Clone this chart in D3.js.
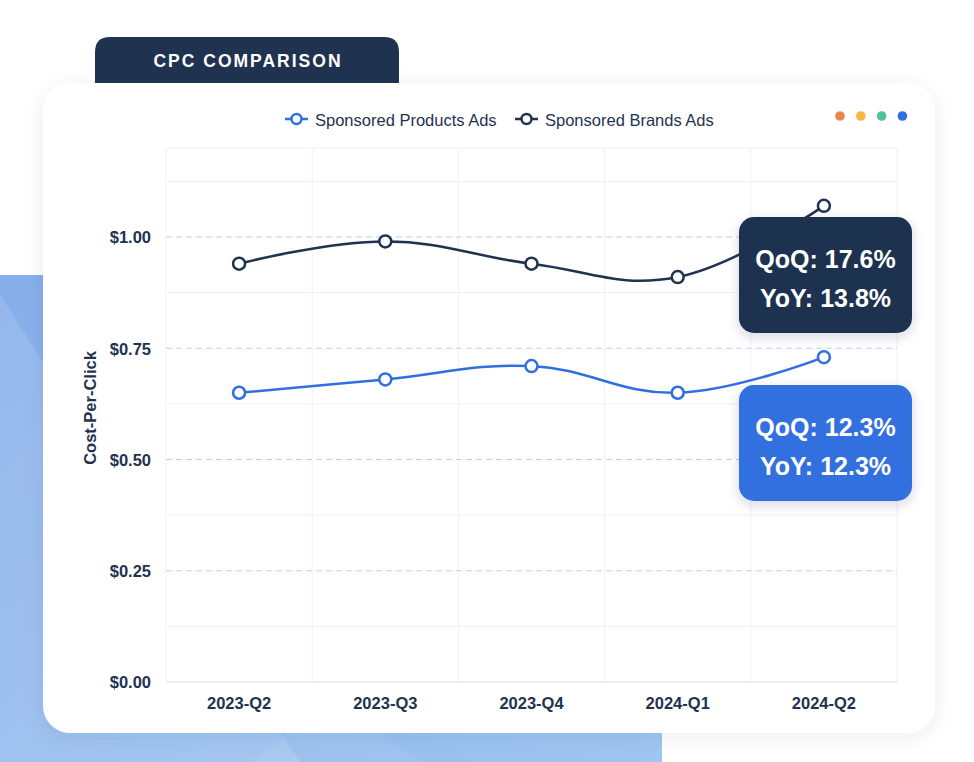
<!DOCTYPE html>
<html>
<head>
<meta charset="utf-8">
<script src="https://cdn.jsdelivr.net/npm/d3@7"></script>
<style>
  html, body { margin: 0; padding: 0; background: #ffffff; }
  svg { display: block; font-family: "Liberation Sans", Arial, Helvetica, sans-serif; }
</style>
</head>
<body>
<svg id="chart" width="974" height="762"></svg>
<script>
// ---- data ----
const quarters = ["2023-Q2", "2023-Q3", "2023-Q4", "2024-Q1", "2024-Q2"];
const productsCPC = [0.65, 0.68, 0.71, 0.65, 0.73];
const brandsCPC = [0.94, 0.99, 0.94, 0.91, 1.07];
const seriesNames = ["Sponsored Products Ads", "Sponsored Brands Ads"];
const yTickValues = [0, 0.25, 0.5, 0.75, 1.0];
const yMinorValues = [0.125, 0.375, 0.625, 0.875, 1.125, 1.2];
const brandsChange = ["QoQ: 17.6%", "YoY: 13.8%"];
const productsChange = ["QoQ: 12.3%", "YoY: 12.3%"];
const titleText = "CPC COMPARISON";
const yAxisTitle = "Cost-Per-Click";
const dotColors = ["#ef8450", "#f5b942", "#4fc19b", "#2f6fe0"];

// ---- style ----
const DARK = "#1f3350";
const BLUE = "#2f6fe0";

const svg = d3.select("#chart");
const defs = svg.append("defs");

const bgGrad = defs.append("linearGradient").attr("id", "bgGrad")
  .attr("x1", "0%").attr("y1", "0%").attr("x2", "100%").attr("y2", "100%");
bgGrad.append("stop").attr("offset", "0%").attr("stop-color", "#86aeea");
bgGrad.append("stop").attr("offset", "100%").attr("stop-color", "#9fc6f0");

const shadow = defs.append("filter").attr("id", "cardShadow")
  .attr("x", "-10%").attr("y", "-10%").attr("width", "120%").attr("height", "125%");
shadow.append("feDropShadow").attr("dx", 0).attr("dy", 4).attr("stdDeviation", 10)
  .attr("flood-color", "#1f3350").attr("flood-opacity", 0.08);

const boxShadow = defs.append("filter").attr("id", "boxShadow")
  .attr("x", "-20%").attr("y", "-20%").attr("width", "140%").attr("height", "150%");
boxShadow.append("feDropShadow").attr("dx", 0).attr("dy", 4).attr("stdDeviation", 6)
  .attr("flood-color", "#1f3350").attr("flood-opacity", 0.18);

// ---- background blue region ----
svg.append("rect").attr("x", 0).attr("y", 275).attr("width", 662).attr("height", 487)
  .attr("fill", "url(#bgGrad)");
svg.append("path").attr("d", "M0,295 L300,762 L0,762 Z")
  .attr("fill", "#ffffff").attr("opacity", 0.12);
svg.append("path").attr("d", "M330,700 L420,762 L250,762 Z")
  .attr("fill", "#ffffff").attr("opacity", 0.06);

// ---- title tab ----
const tab = { x: 95, y: 37, w: 304, h: 50, r: 15 };
svg.append("path")
  .attr("d", `M${tab.x},${tab.y + tab.h} L${tab.x},${tab.y + tab.r} Q${tab.x},${tab.y} ${tab.x + tab.r},${tab.y} L${tab.x + tab.w - tab.r},${tab.y} Q${tab.x + tab.w},${tab.y} ${tab.x + tab.w},${tab.y + tab.r} L${tab.x + tab.w},${tab.y + tab.h} Z`)
  .attr("fill", DARK);
svg.append("text").attr("x", tab.x + tab.w / 2 + 1).attr("y", 67)
  .attr("text-anchor", "middle").attr("fill", "#ffffff")
  .attr("font-size", 17.5).attr("font-weight", 700).attr("letter-spacing", 2)
  .text(titleText);

// ---- card ----
svg.append("rect").attr("x", 43).attr("y", 83).attr("width", 892).attr("height", 650)
  .attr("rx", 27).attr("fill", "#ffffff").attr("filter", "url(#cardShadow)");

// ---- scales ----
const x = d3.scaleBand().domain(quarters).range([166, 897]);
const y = d3.scaleLinear().domain([0, 1.2]).range([682, 148]);
const cx = d => x(d) + x.bandwidth() / 2;

const plot = svg.append("g");

// minor grid (solid)
plot.selectAll("line.minor").data(yMinorValues).join("line")
  .attr("x1", x.range()[0]).attr("x2", x.range()[1])
  .attr("y1", d => y(d)).attr("y2", d => y(d))
  .attr("stroke", "#eff1f4").attr("stroke-width", 1);

// vertical grid
const vEdges = quarters.map(q => x(q)).concat([x.range()[1]]);
plot.selectAll("line.vgrid").data(vEdges).join("line")
  .attr("x1", d => d).attr("x2", d => d)
  .attr("y1", y(1.2)).attr("y2", y(0))
  .attr("stroke", "#eff1f4").attr("stroke-width", 1);

// major dashed grid
plot.selectAll("line.major").data(yTickValues.filter(v => v > 0)).join("line")
  .attr("x1", x.range()[0]).attr("x2", x.range()[1])
  .attr("y1", d => y(d)).attr("y2", d => y(d))
  .attr("stroke", "#b9d3f6").attr("stroke-width", 1).attr("stroke-dasharray", "6,4");

// baseline
plot.append("line").attr("x1", x.range()[0]).attr("x2", x.range()[1])
  .attr("y1", y(0)).attr("y2", y(0)).attr("stroke", "#dcdfe3").attr("stroke-width", 1.2);

// y axis
const yAxis = d3.axisLeft(y).tickValues(yTickValues).tickSize(0).tickPadding(15)
  .tickFormat(d => "$" + d3.format(".2f")(d));
const yg = svg.append("g").attr("transform", `translate(${x.range()[0]},0)`).call(yAxis);
yg.select(".domain").remove();
yg.selectAll("text").attr("fill", DARK).attr("font-size", 16.5).attr("font-weight", 700)
  .attr("dy", "0.36em")
  .attr("font-family", "Liberation Sans, Arial, sans-serif");

// x axis
const xAxis = d3.axisBottom(x).tickSize(0).tickPadding(15);
const xg = svg.append("g").attr("transform", `translate(0,${y(0)})`).call(xAxis);
xg.select(".domain").remove();
xg.selectAll("text").attr("fill", DARK).attr("font-size", 16.5).attr("font-weight", 700)
  .attr("font-family", "Liberation Sans, Arial, sans-serif");

// y axis title
svg.append("text")
  .attr("transform", `translate(96,408) rotate(-90)`)
  .attr("text-anchor", "middle").attr("fill", DARK)
  .attr("font-size", 16.5).attr("font-weight", 700).text(yAxisTitle);

// ---- lines ----
const line = d3.line()
  .x((d, i) => cx(quarters[i]))
  .y(d => y(d))
  .curve(d3.curveCardinal.tension(-0.2));

const series = [
  { name: seriesNames[0], values: productsCPC, color: BLUE },
  { name: seriesNames[1], values: brandsCPC, color: DARK }
];

series.forEach(s => {
  svg.append("path").attr("d", line(s.values)).attr("fill", "none")
    .attr("stroke", s.color).attr("stroke-width", 2.5);
  svg.selectAll(null).data(s.values).join("circle")
    .attr("cx", (d, i) => cx(quarters[i])).attr("cy", d => y(d))
    .attr("r", 6).attr("fill", "#ffffff")
    .attr("stroke", s.color).attr("stroke-width", 2.5);
});

// ---- legend ----
const legendItems = [
  { name: seriesNames[0], color: BLUE, x: 285 },
  { name: seriesNames[1], color: DARK, x: 515 }
];
legendItems.forEach(it => {
  const g = svg.append("g").attr("transform", `translate(${it.x},119)`);
  g.append("line").attr("x1", 0).attr("x2", 23).attr("y1", 0).attr("y2", 0)
    .attr("stroke", it.color).attr("stroke-width", 2.5);
  g.append("circle").attr("cx", 11.5).attr("cy", 0).attr("r", 5)
    .attr("fill", "#ffffff").attr("stroke", it.color).attr("stroke-width", 2.5);
  g.append("text").attr("x", 30).attr("y", 6.5).attr("fill", DARK)
    .attr("font-size", 16.5).text(it.name);
});

// ---- window dots ----
svg.selectAll("circle.wdot").data(dotColors).join("circle")
  .attr("cx", (d, i) => 840 + i * 20.8).attr("cy", 116).attr("r", 4.8)
  .attr("fill", d => d);

// ---- change boxes ----
function changeBox(lines, fill, top) {
  const g = svg.append("g");
  g.append("rect").attr("x", 739).attr("y", top).attr("width", 173).attr("height", 116)
    .attr("rx", 15).attr("fill", fill).attr("filter", "url(#boxShadow)");
  g.selectAll("text").data(lines).join("text")
    .attr("x", 825.5).attr("y", (d, i) => top + 51 + i * 39)
    .attr("text-anchor", "middle").attr("fill", "#ffffff")
    .attr("font-size", 25).attr("font-weight", 700).text(d => d);
}
changeBox(brandsChange, DARK, 217);
changeBox(productsChange, "#3170e0", 385);
</script>
</body>
</html>
